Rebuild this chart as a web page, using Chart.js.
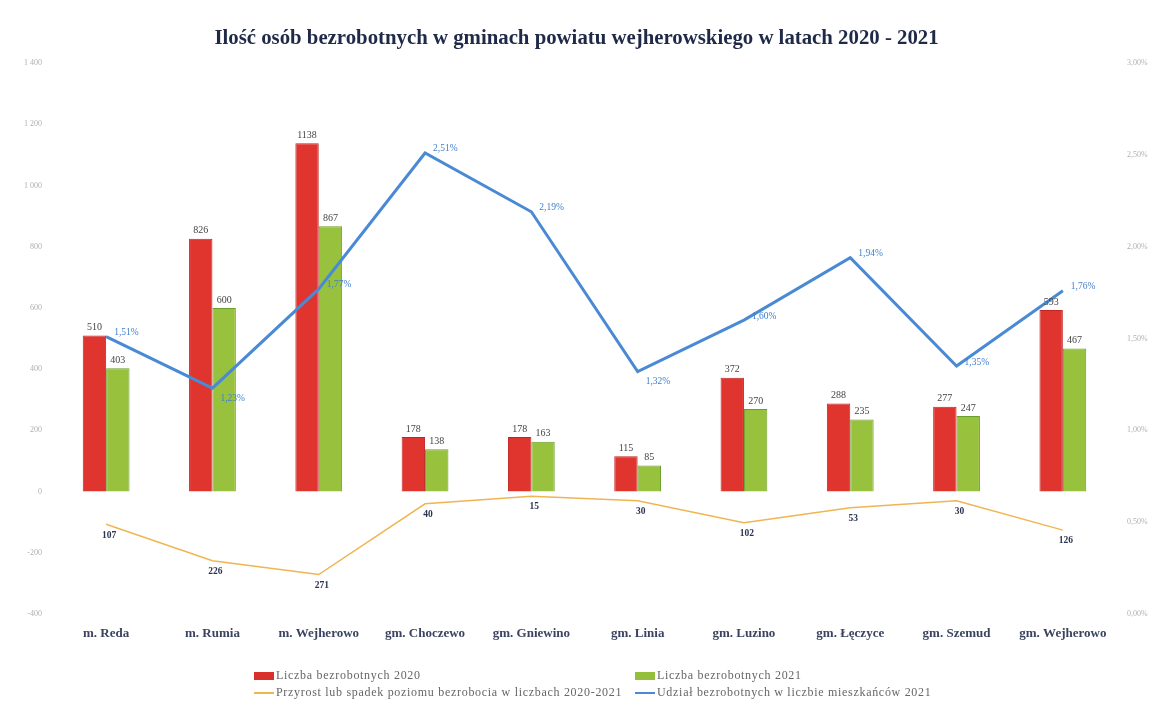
<!DOCTYPE html>
<html lang="pl">
<head>
<meta charset="utf-8">
<script src="https://cdn.jsdelivr.net/npm/chart.js@4"></script>
<style>
  html, body { margin: 0; padding: 0; background: #fff; }
  #wrap { position: relative; width: 1153px; height: 709px; }
  #title {
    position: absolute; left: 0; top: 25px; width: 1153px; text-align: center;
    font: bold 20.8px "Liberation Serif", serif; color: #1f2a48;
  }
  .leg { position: absolute; font: 12px "Liberation Serif", serif; letter-spacing: 0.7px; color: #666; white-space: nowrap; }
  .leg i { display: inline-block; vertical-align: middle; margin-right: 2px; }
</style>
</head>
<body>
<div id="wrap">
  <canvas id="chart" width="1153" height="709"></canvas>
  <div id="title">Ilość osób bezrobotnych w gminach powiatu wejherowskiego w latach 2020 - 2021</div>
  <div class="leg" style="left:254px;top:668px"><i style="width:20px;height:8px;background:#d9302c"></i>Liczba bezrobotnych 2020</div>
  <div class="leg" style="left:635px;top:668px"><i style="width:20px;height:8px;background:#93bf3a"></i>Liczba bezrobotnych 2021</div>
  <div class="leg" style="left:254px;top:685px"><i style="width:20px;height:2px;background:#f0b552"></i>Przyrost lub spadek poziomu bezrobocia w liczbach 2020-2021</div>
  <div class="leg" style="left:635px;top:685px"><i style="width:20px;height:2px;background:#4a8ad4"></i>Udział bezrobotnych w liczbie mieszkańców 2021</div>
</div>
<script>
const CATEGORIES = ["m. Reda", "m. Rumia", "m. Wejherowo", "gm. Choczewo", "gm. Gniewino",
  "gm. Linia", "gm. Luzino", "gm. Łęczyce", "gm. Szemud", "gm. Wejherowo"];
const UNEMPLOYED_2020 = [510, 826, 1138, 178, 178, 115, 372, 288, 277, 593];
const UNEMPLOYED_2021 = [403, 600, 867, 138, 163, 85, 270, 235, 247, 467];
const CHANGE_2020_2021 = [-107, -226, -271, -40, -15, -30, -102, -53, -30, -126];
const SHARE_2021 = [1.51, 1.23, 1.77, 2.51, 2.19, 1.32, 1.60, 1.94, 1.35, 1.76];

const pct = (v) => v.toFixed(2).replace(".", ",") + "%";

// draws the value labels next to bars and points
const valueLabels = {
  id: "valueLabels",
  afterDatasetsDraw(chart) {
    const ctx = chart.ctx;
    ctx.save();
    chart.data.datasets.forEach((ds, i) => {
      const meta = chart.getDatasetMeta(i);
      meta.data.forEach((el, j) => {
        const v = ds.data[j];
        if (ds.type === "bar") {
          ctx.font = "10px 'Liberation Serif', serif";
          ctx.fillStyle = "#444";
          ctx.textAlign = "center";
          ctx.textBaseline = "bottom";
          ctx.fillText(String(v), el.x, el.y - 3);
        } else if (ds.yAxisID === "y1") {
          ctx.font = "9.5px 'Liberation Serif', serif";
          ctx.fillStyle = "#3f7fcc";
          ctx.textAlign = "left";
          ctx.textBaseline = "middle";
          const dy = (j === 1 || j === 5) ? 10 : -4;
          ctx.fillText(pct(v), el.x + 8, el.y + dy);
        } else {
          ctx.font = "bold 9.5px 'Liberation Serif', serif";
          ctx.fillStyle = "#2a3450";
          ctx.textAlign = "center";
          ctx.textBaseline = "top";
          ctx.fillText(String(Math.abs(v)), el.x + 3, el.y + 6);
        }
      });
    });
    ctx.restore();
  }
};

new Chart(document.getElementById("chart"), {
  data: {
    labels: CATEGORIES,
    datasets: [
      {
        type: "line",
        label: "Udział bezrobotnych w liczbie mieszkańców 2021",
        data: SHARE_2021,
        yAxisID: "y1",
        borderColor: "#4a8ad4",
        borderWidth: 3,
        pointRadius: 0,
        order: 0
      },
      {
        type: "line",
        label: "Przyrost lub spadek poziomu bezrobocia w liczbach 2020-2021",
        data: CHANGE_2020_2021,
        yAxisID: "y",
        borderColor: "#f0b552",
        borderWidth: 1.5,
        pointRadius: 0,
        order: 0
      },
      {
        type: "bar",
        label: "Liczba bezrobotnych 2020",
        data: UNEMPLOYED_2020,
        yAxisID: "y",
        backgroundColor: "#e0342f",
        borderColor: "#c02622",
        borderWidth: 1,
        barPercentage: 1,
        categoryPercentage: 0.44,
        order: 1
      },
      {
        type: "bar",
        label: "Liczba bezrobotnych 2021",
        data: UNEMPLOYED_2021,
        yAxisID: "y",
        backgroundColor: "#98c23e",
        borderColor: "#6a9e2c",
        borderWidth: 1,
        barPercentage: 1,
        categoryPercentage: 0.44,
        order: 1
      }
    ]
  },
  options: {
    responsive: false,
    animation: false,
    layout: { padding: { top: 63, bottom: 63, left: 0, right: 0 } },
    plugins: {
      legend: { display: false },
      title: { display: false },
      tooltip: { enabled: false }
    },
    scales: {
      x: {
        grid: { display: false },
        border: { display: false },
        ticks: {
          padding: 4,
          color: "#3a4460",
          font: { family: "'Liberation Serif', serif", size: 13, weight: "bold" }
        },
        afterFit(axis) { axis.height = 32; }
      },
      y: {
        position: "left",
        min: -400,
        max: 1400,
        grid: { display: false },
        border: { display: false },
        ticks: {
          stepSize: 200,
          color: "#b0b0b0",
          font: { family: "'Liberation Serif', serif", size: 8 },
          callback: (v) => String(v).replace(/\B(?=(\d{3})+(?!\d))/g, " ")
        },
        afterFit(axis) { axis.width = 53; }
      },
      y1: {
        position: "right",
        min: 0,
        max: 3,
        grid: { display: false },
        border: { display: false },
        ticks: {
          stepSize: 0.5,
          color: "#b0b0b0",
          font: { family: "'Liberation Serif', serif", size: 8 },
          callback: (v) => pct(v)
        },
        afterFit(axis) { axis.width = 37; }
      }
    }
  },
  plugins: [valueLabels]
});
</script>
</body>
</html>
